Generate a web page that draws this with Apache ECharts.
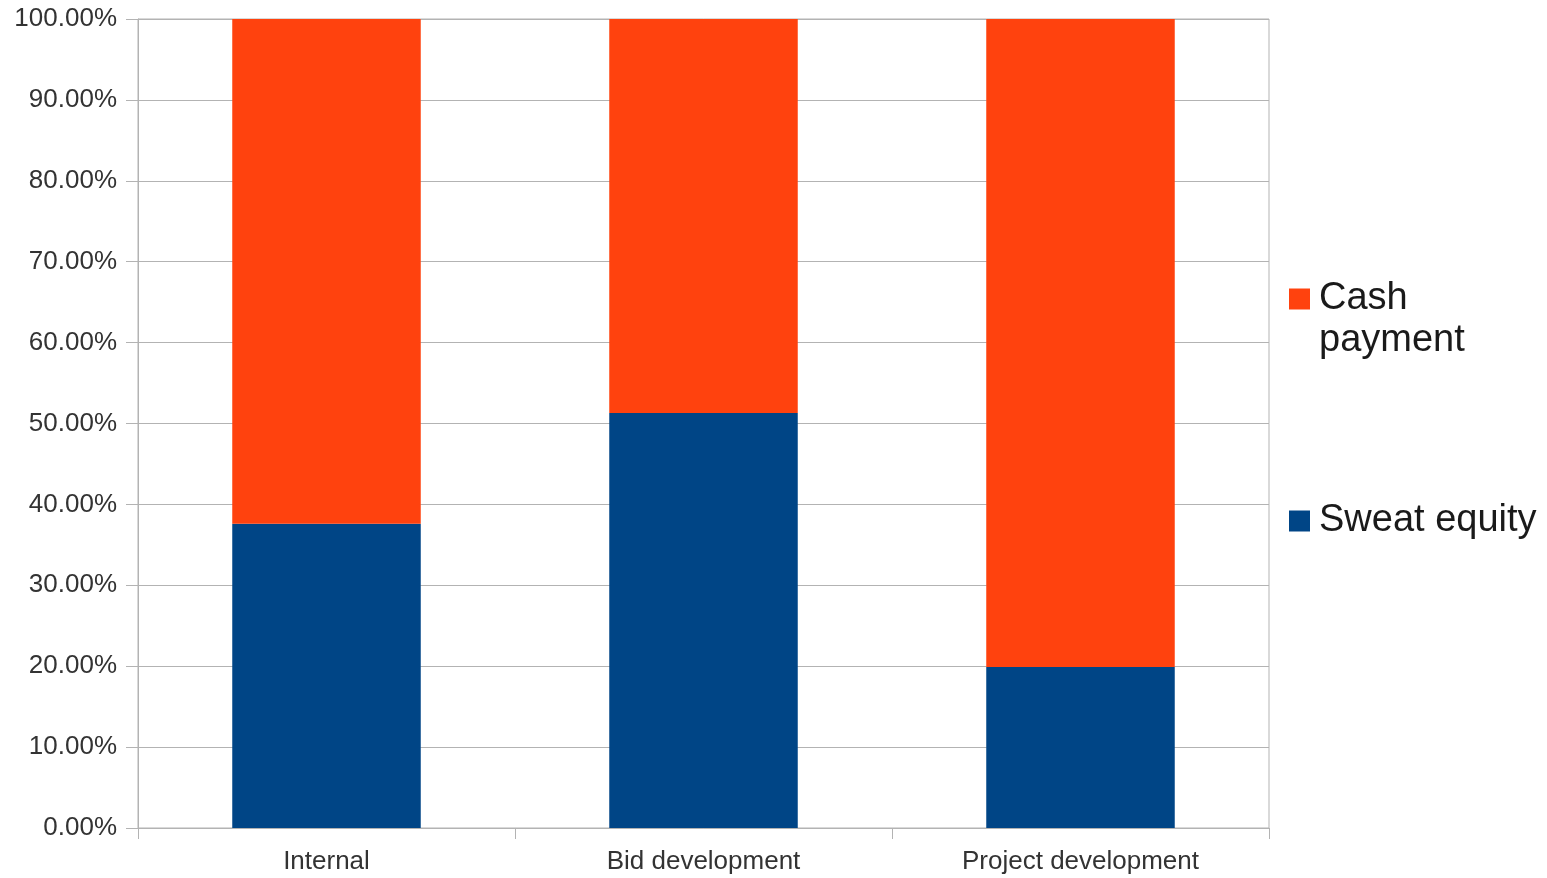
<!DOCTYPE html>
<html>
<head>
<meta charset="utf-8">
<script src="https://cdn.jsdelivr.net/npm/echarts@6/dist/echarts.min.js"></script>
<style>
html,body{margin:0;padding:0;background:#fff;}
#chart{width:1547px;height:878px;}
</style>
</head>
<body>
<div id="chart"></div>
<script>
const categories = ['Internal', 'Bid development', 'Project development'];
const sweatEquity = [37.6, 51.3, 19.9];
const cashPayment = [62.4, 48.7, 80.1];
const seriesNames = ['Sweat equity', 'Cash payment'];
const yTicks = { min: 0, max: 100, interval: 10 };

const font = '"Liberation Sans", Arial, sans-serif';
const chart = echarts.init(document.getElementById('chart'), null, { renderer: 'canvas' });
chart.setOption({
  animation: false,
  backgroundColor: '#ffffff',
  grid: { left: 138, right: 278, top: 19, bottom: 50, show: true, borderColor: '#b3b3b3', borderWidth: 1 },
  legend: [
    {
      data: [seriesNames[1]],
      orient: 'vertical',
      left: 1289, top: 236, padding: 0,
      itemWidth: 21, itemHeight: 21,
      icon: 'rect',
      formatter: function () { return '\nCash\npayment'; },
      textStyle: { fontFamily: font, fontSize: 38, color: '#1a1a1a', lineHeight: 42, padding: [0, 0, 0, 4] }
    },
    {
      data: [seriesNames[0]],
      orient: 'vertical',
      left: 1289, top: 500, padding: 0,
      itemWidth: 21, itemHeight: 21,
      icon: 'rect',
      textStyle: { fontFamily: font, fontSize: 38, color: '#1a1a1a', lineHeight: 42, padding: [0, 0, 0, 4] }
    }
  ],
  xAxis: {
    type: 'category',
    data: categories,
    boundaryGap: true,
    axisLine: { lineStyle: { color: '#b3b3b3', width: 1 } },
    axisTick: { show: true, length: 11, lineStyle: { color: '#b3b3b3' } },
    axisLabel: { fontFamily: font, fontSize: 26, color: '#333333', margin: 21 },
    splitLine: { show: false }
  },
  yAxis: {
    type: 'value',
    min: yTicks.min, max: yTicks.max, interval: yTicks.interval,
    axisLine: { show: true, lineStyle: { color: '#b3b3b3', width: 1 } },
    axisTick: { show: true, length: 12, lineStyle: { color: '#b3b3b3' } },
    axisLabel: { fontFamily: font, fontSize: 26, color: '#333333', margin: 21,
      formatter: function (v) { return v.toFixed(2) + '%'; } },
    splitLine: { show: true, lineStyle: { color: '#b3b3b3', width: 1 } }
  },
  series: [
    { name: seriesNames[0], type: 'bar', stack: 'total', barWidth: '50%', data: sweatEquity, itemStyle: { color: '#004586' } },
    { name: seriesNames[1], type: 'bar', stack: 'total', barWidth: '50%', data: cashPayment, itemStyle: { color: '#ff420e' } }
  ]
});
</script>
</body>
</html>
